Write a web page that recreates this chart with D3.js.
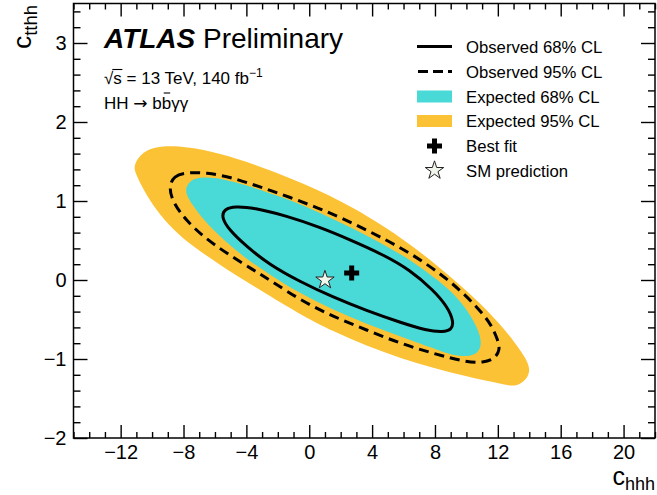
<!DOCTYPE html>
<html>
<head>
<meta charset="utf-8">
<script src="https://cdn.jsdelivr.net/npm/d3@7"></script>
<style>
  body { margin: 0; background: #fff; }
  svg { display: block; }
  text { font-family: "Liberation Sans", Arial, Helvetica, sans-serif; fill: #000; }
</style>
</head>
<body>
<svg id="chart" width="657" height="495"></svg>
<script>
// Axis set-up
const xDomain = [-15, 22];
const yDomain = [-2, 3.5];
const xTickValues = [-12, -8, -4, 0, 4, 8, 12, 16, 20];
const yTickValues = [-2, -1, 0, 1, 2, 3];

// Likelihood contours in the (c_hhh, c_tthh) plane, as [c_hhh, c_tthh] points
const expected95 = [
  [-11.2, 1.45], [-10.62, 1.63], [-9.50, 1.70], [-7.80, 1.69], [-5.68, 1.605],
  [-3.13, 1.44], [-0.38, 1.226], [2.80, 0.928], [6.41, 0.464], [8.74, 0.084],
  [10.44, -0.211], [12.13, -0.549], [13.45, -0.886], [14.3, -1.16], [13.3, -1.37],
  [12.13, -1.31], [10.01, -1.222], [7.89, -1.114], [5.77, -0.987], [3.65, -0.835],
  [1.53, -0.652], [-0.59, -0.437], [-3.98, -0.025], [-5.68, 0.192], [-7.37, 0.42],
  [-8.65, 0.633], [-9.75, 0.886], [-10.55, 1.139], [-11.05, 1.35]
];
const expected68 = [
  [-7.95, 1.13], [-7.62, 1.26], [-6.95, 1.30], [-6.00, 1.297], [-4.62, 1.238],
  [-1.44, 1.034], [0.68, 0.852], [2.80, 0.654], [4.92, 0.430], [6.62, 0.232],
  [8.32, -0.021], [9.38, -0.211], [10.12, -0.401], [10.72, -0.612], [11.0, -0.80],
  [10.75, -0.935], [10.01, -0.975], [8.95, -0.945], [7.89, -0.865], [5.77, -0.712],
  [3.65, -0.557], [1.53, -0.380], [-0.59, -0.169], [-2.50, 0.063], [-4.19, 0.295],
  [-5.68, 0.548], [-6.80, 0.780], [-7.58, 0.991]
];
const observed95 = [
  [-8.95, 1.17], [-8.62, 1.32], [-7.80, 1.362], [-6.53, 1.36], [-5.04, 1.305],
  [-2.50, 1.139], [0.68, 0.907], [2.80, 0.717], [4.92, 0.506], [6.62, 0.316],
  [8.32, 0.084], [9.59, -0.127], [10.65, -0.338], [11.55, -0.549], [12.0, -0.760],
  [12.15, -0.88], [11.8, -1.0], [11.07, -1.045], [10.01, -1.042], [7.89, -0.93],
  [5.77, -0.802], [3.65, -0.633], [1.53, -0.464], [-0.59, -0.253], [-2.50, 0.0],
  [-3.56, 0.127], [-5.26, 0.338], [-6.74, 0.548], [-7.85, 0.759], [-8.64, 0.970]
];
const observed68 = [
  [-5.6, 0.80], [-5.38, 0.90], [-4.72, 0.932], [-3.56, 0.915], [-1.44, 0.812],
  [0.68, 0.667], [2.59, 0.51], [4.71, 0.32], [6.41, 0.127], [7.89, -0.127],
  [8.8, -0.338], [9.2, -0.53], [9.05, -0.63], [8.53, -0.658], [7.47, -0.64],
  [5.77, -0.536], [3.65, -0.388], [1.53, -0.220], [-0.59, -0.021], [-2.50, 0.190],
  [-3.98, 0.422], [-5.1, 0.633]
];
const bestFit = [2.7, 0.09];
const smPoint = [1, 0];

const legendLabels = ["Observed 68% CL", "Observed 95% CL", "Expected 68% CL",
                      "Expected 95% CL", "Best fit", "SM prediction"];

const colCyan = "#49d9d7";
const colOrange = "#fcc236";

const svg = d3.select("#chart");
const frameLeft = 73.5, frameRight = 655, frameTop = 3.5, frameBottom = 438;

const x = d3.scaleLinear().domain(xDomain).range([frameLeft, frameRight]);
const y = d3.scaleLinear().domain(yDomain).range([frameBottom, frameTop]);

const line = d3.line()
  .x(d => x(d[0])).y(d => y(d[1]))
  .curve(d3.curveBasisClosed);

const plot = svg.append("g");
plot.append("path").attr("d", line(expected95)).attr("fill", colOrange);
plot.append("path").attr("d", line(expected68)).attr("fill", colCyan);
plot.append("path").attr("d", line(observed95)).attr("fill", "none")
  .attr("stroke", "#000").attr("stroke-width", 3).attr("stroke-dasharray", "10,6");
plot.append("path").attr("d", line(observed68)).attr("fill", "none")
  .attr("stroke", "#000").attr("stroke-width", 3);

// markers
const crossSym = d3.symbol(d3.symbolCross, 125);
const starSym = d3.symbol(d3.symbolStar, 105);
plot.append("path").attr("d", crossSym())
  .attr("transform", `translate(${x(bestFit[0])},${y(bestFit[1])})`)
  .attr("fill", "#000");
plot.append("path").attr("d", starSym())
  .attr("transform", `translate(${x(smPoint[0])},${y(smPoint[1])})`)
  .attr("fill", "#f1f6ec").attr("stroke", "#222").attr("stroke-width", 1);

// axes with inward ticks on all four sides
const xMinor = d3.range(xDomain[0], xDomain[1] + 1, 1).filter(v => !xTickValues.includes(v));
const yMinor = d3.range(-2, 3.5 + 1e-9, 0.2).map(v => Math.round(v * 10) / 10)
  .filter(v => !yTickValues.includes(v));

function styleAxis(g) {
  g.select(".domain").remove();
  g.selectAll("line").attr("stroke", "#000").attr("stroke-width", 1.4);
  g.selectAll("text").style("font-size", "20px").attr("fill", "#000");
}
const fmt = d => d < 0 ? "\u2212" + Math.abs(d) : d;
svg.append("g").attr("transform", `translate(0,${frameBottom})`)
  .call(d3.axisBottom(x).tickValues(xTickValues).tickSize(-13).tickPadding(7).tickFormat(fmt))
  .call(styleAxis);
svg.append("g").attr("transform", `translate(0,${frameBottom})`)
  .call(d3.axisBottom(x).tickValues(xMinor).tickSize(-6).tickFormat(""))
  .call(styleAxis);
svg.append("g").attr("transform", `translate(0,${frameTop})`)
  .call(d3.axisTop(x).tickValues(xTickValues).tickSize(-13).tickFormat(""))
  .call(styleAxis);
svg.append("g").attr("transform", `translate(0,${frameTop})`)
  .call(d3.axisTop(x).tickValues(xMinor).tickSize(-6).tickFormat(""))
  .call(styleAxis);
svg.append("g").attr("transform", `translate(${frameLeft},0)`)
  .call(d3.axisLeft(y).tickValues(yTickValues).tickSize(-14).tickPadding(7).tickFormat(fmt))
  .call(styleAxis);
svg.append("g").attr("transform", `translate(${frameLeft},0)`)
  .call(d3.axisLeft(y).tickValues(yMinor).tickSize(-7).tickFormat(""))
  .call(styleAxis);
svg.append("g").attr("transform", `translate(${frameRight},0)`)
  .call(d3.axisRight(y).tickValues(yTickValues).tickSize(-14).tickFormat(""))
  .call(styleAxis);
svg.append("g").attr("transform", `translate(${frameRight},0)`)
  .call(d3.axisRight(y).tickValues(yMinor).tickSize(-7).tickFormat(""))
  .call(styleAxis);

svg.append("rect").attr("x", frameLeft).attr("y", frameTop)
  .attr("width", frameRight - frameLeft).attr("height", frameBottom - frameTop)
  .attr("fill", "none").attr("stroke", "#000").attr("stroke-width", 1.5);

// axis titles
const xt = svg.append("text").attr("x", frameRight).attr("y", 485).attr("text-anchor", "end")
  .style("font-size", "25px");
xt.append("tspan").text("c");
xt.append("tspan").text("hhh").style("font-size", "18px").attr("dy", 5);

const yt = svg.append("text").attr("transform", "translate(31,5) rotate(-90)")
  .attr("text-anchor", "end").style("font-size", "26px");
yt.append("tspan").text("c");
yt.append("tspan").text("tthh").style("font-size", "18.5px").attr("dy", 6);

// ATLAS label
const atlas = svg.append("text").attr("x", 104).attr("y", 48).style("font-size", "28px");
atlas.append("tspan").text("ATLAS").style("font-weight", "bold").style("font-style", "italic");
atlas.append("tspan").text(" Preliminary");

const l2 = svg.append("text").attr("x", 104).attr("y", 84).style("font-size", "17px");
l2.append("tspan").text("\u221As = 13 TeV, 140 fb");
l2.append("tspan").text("\u22121").style("font-size", "12px").attr("dy", -7);
{
  const n = l2.node();
  const s0 = n.getStartPositionOfChar(1).x, s1 = n.getEndPositionOfChar(1).x;
  svg.append("line").attr("x1", s0 - 1).attr("x2", s1 + 0.5).attr("y1", 69.5).attr("y2", 69.5)
    .attr("stroke", "#000").attr("stroke-width", 1.1);
}
const l3 = svg.append("text").attr("x", 104).attr("y", 109).style("font-size", "17px");
l3.append("tspan").text("HH ");
l3.append("tspan").text("\u2192").style("font-family", "'DejaVu Sans', sans-serif");
l3.append("tspan").text(" bb\u03B3\u03B3");
{
  const n = l3.node();
  const s0 = n.getStartPositionOfChar(6).x, s1 = n.getEndPositionOfChar(6).x;
  svg.append("line").attr("x1", s0 + 2).attr("x2", s1 - 1).attr("y1", 93).attr("y2", 93)
    .attr("stroke", "#000").attr("stroke-width", 1.1);
}

// legend
const legRows = [46.5, 71.5, 96.5, 121, 146, 170.5];
const leg = svg.append("g");
legendLabels.forEach((lab, i) => {
  const cy = legRows[i];
  leg.append("text").attr("x", 466).attr("y", cy + 6).style("font-size", "16.7px").text(lab);
});
leg.append("line").attr("x1", 417).attr("x2", 452).attr("y1", legRows[0]).attr("y2", legRows[0])
  .attr("stroke", "#000").attr("stroke-width", 3);
leg.append("line").attr("x1", 418).attr("x2", 452).attr("y1", legRows[1]).attr("y2", legRows[1])
  .attr("stroke", "#000").attr("stroke-width", 3).attr("stroke-dasharray", "10,5");
leg.append("rect").attr("x", 417).attr("y", legRows[2] - 6).attr("width", 35).attr("height", 12)
  .attr("fill", colCyan);
leg.append("rect").attr("x", 417).attr("y", legRows[3] - 6).attr("width", 35).attr("height", 12)
  .attr("fill", colOrange);
leg.append("path").attr("d", crossSym()).attr("transform", `translate(434.5,${legRows[4]})`)
  .attr("fill", "#000");
leg.append("path").attr("d", starSym()).attr("transform", `translate(434.5,${legRows[5]})`)
  .attr("fill", "#f1f6ec").attr("stroke", "#222").attr("stroke-width", 1);
</script>
</body>
</html>
